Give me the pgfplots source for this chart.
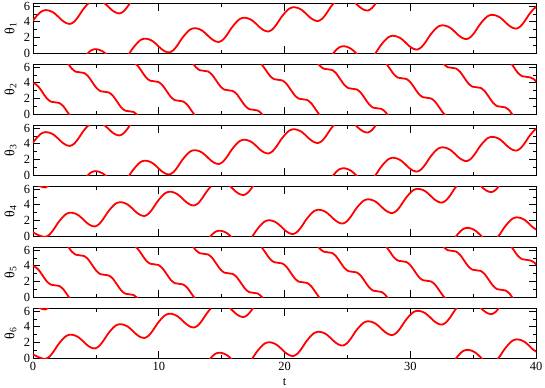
\documentclass[border=0pt]{standalone}
\usepackage{fontspec}
\setmainfont{Liberation Serif}
\usepackage{pgfplots}
\usepackage{pgfplotstable}
\pgfplotsset{compat=1.18}

% theta_1 (= theta_3), wrapped to [0,2pi); rows "nan nan" separate wrap segments
\pgfplotstableread{
t y
0 4.151
0.329 4.801
0.657 5.301
0.986 5.481
1.314 5.401
1.643 5.151
1.972 4.701
2.300 4.201
2.629 3.851
2.957 3.731
3.286 4.031
3.615 4.681
3.943 5.481
4.272 6.131
4.600 6.631
nan nan
4.272 -0.152
4.600 0.348
4.929 0.528
5.258 0.448
5.586 0.198
5.915 -0.252
nan nan
5.586 6.481
5.915 6.031
6.243 5.531
6.572 5.181
6.901 5.061
7.229 5.361
7.558 6.011
7.886 6.811
nan nan
7.558 -0.272
7.886 0.528
8.215 1.178
8.544 1.678
8.872 1.858
9.201 1.778
9.529 1.528
9.858 1.078
10.187 0.578
10.515 0.228
10.844 0.108
11.172 0.408
11.501 1.058
11.830 1.858
12.158 2.508
12.487 3.008
12.815 3.188
13.144 3.108
13.473 2.858
13.801 2.408
14.130 1.908
14.458 1.558
14.787 1.438
15.116 1.738
15.444 2.388
15.773 3.188
16.101 3.838
16.430 4.338
16.759 4.518
17.087 4.438
17.416 4.188
17.744 3.738
18.073 3.238
18.402 2.888
18.730 2.768
19.059 3.068
19.387 3.718
19.716 4.518
20.045 5.168
20.373 5.668
20.702 5.848
21.030 5.768
21.359 5.518
21.688 5.068
22.016 4.568
22.345 4.218
22.673 4.098
23.002 4.398
23.331 5.048
23.659 5.848
23.988 6.498
nan nan
23.659 -0.435
23.988 0.215
24.316 0.715
24.645 0.895
24.974 0.815
25.302 0.565
25.631 0.115
25.959 -0.385
nan nan
25.631 6.398
25.959 5.898
26.288 5.548
26.617 5.428
26.945 5.728
27.274 6.378
nan nan
26.945 -0.555
27.274 0.095
27.602 0.895
27.931 1.545
28.260 2.045
28.588 2.225
28.917 2.145
29.245 1.895
29.574 1.445
29.903 0.945
30.231 0.595
30.560 0.475
30.888 0.775
31.217 1.425
31.546 2.225
31.874 2.875
32.203 3.375
32.531 3.555
32.860 3.475
33.189 3.225
33.517 2.775
33.846 2.275
34.174 1.925
34.503 1.805
34.832 2.105
35.160 2.755
35.489 3.555
35.817 4.205
36.146 4.705
36.475 4.885
36.803 4.805
37.132 4.555
37.460 4.105
37.789 3.605
38.118 3.255
38.446 3.135
38.775 3.435
39.103 4.085
39.432 4.885
39.761 5.535
40.089 6.035
}\thA

% theta_2 (= theta_5)
\pgfplotstableread{
t y
-0.217 3.995
0.112 3.915
0.441 3.495
0.769 2.758
1.098 2.020
1.426 1.600
1.755 1.520
2.084 1.440
2.412 1.020
2.741 0.283
3.069 -0.455
nan nan
2.741 6.566
3.069 5.828
3.398 5.408
3.727 5.328
4.055 5.248
4.384 4.828
4.712 4.091
5.041 3.353
5.370 2.933
5.698 2.853
6.027 2.773
6.355 2.353
6.684 1.616
7.013 0.878
7.341 0.458
7.670 0.378
7.998 0.298
8.327 -0.122
nan nan
7.998 6.581
8.327 6.161
8.656 5.424
8.984 4.686
9.313 4.266
9.641 4.186
9.970 4.106
10.299 3.686
10.627 2.949
10.956 2.211
11.284 1.791
11.613 1.711
11.942 1.631
12.270 1.211
12.599 0.474
12.927 -0.264
nan nan
12.599 6.758
12.927 6.020
13.256 5.600
13.585 5.520
13.913 5.440
14.242 5.020
14.570 4.283
14.899 3.545
15.228 3.125
15.556 3.045
15.885 2.965
16.213 2.545
16.542 1.808
16.871 1.070
17.199 0.650
17.528 0.570
17.856 0.490
18.185 0.070
18.514 -0.668
nan nan
18.185 6.353
18.514 5.616
18.842 4.878
19.171 4.458
19.499 4.378
19.828 4.298
20.157 3.878
20.485 3.141
20.814 2.403
21.142 1.983
21.471 1.903
21.800 1.823
22.128 1.403
22.457 0.666
22.785 -0.072
nan nan
22.457 6.949
22.785 6.211
23.114 5.791
23.443 5.711
23.771 5.631
24.100 5.211
24.428 4.474
24.757 3.736
25.086 3.316
25.414 3.236
25.743 3.156
26.071 2.736
26.400 1.999
26.729 1.261
27.057 0.841
27.386 0.761
27.714 0.681
28.043 0.261
28.372 -0.477
nan nan
28.043 6.544
28.372 5.807
28.700 5.069
29.029 4.649
29.357 4.569
29.686 4.489
30.015 4.069
30.343 3.332
30.672 2.594
31.000 2.174
31.329 2.094
31.658 2.014
31.986 1.594
32.315 0.857
32.643 0.119
32.972 -0.301
nan nan
32.643 6.402
32.972 5.982
33.301 5.902
33.629 5.822
33.958 5.402
34.286 4.665
34.615 3.927
34.944 3.507
35.272 3.427
35.601 3.347
35.929 2.927
36.258 2.190
36.587 1.452
36.915 1.032
37.244 0.952
37.572 0.872
37.901 0.452
38.230 -0.286
nan nan
37.901 6.735
38.230 5.998
38.558 5.260
38.887 4.840
39.215 4.760
39.544 4.680
39.873 4.400
40.201 3.800
}\thB

% theta_4 (= theta_6)
\pgfplotstableread{
t y
0 0.500
0.329 0.220
0.657 0.020
0.986 -0.079
1.314 0.221
1.643 0.871
1.972 1.671
2.300 2.321
2.629 2.821
2.957 3.001
3.286 2.921
3.615 2.671
3.943 2.221
4.272 1.721
4.600 1.371
4.929 1.251
5.258 1.551
5.586 2.201
5.915 3.001
6.243 3.651
6.572 4.151
6.901 4.331
7.229 4.251
7.558 4.001
7.886 3.551
8.215 3.051
8.544 2.701
8.872 2.581
9.201 2.881
9.529 3.531
9.858 4.331
10.187 4.981
10.515 5.481
10.844 5.661
11.172 5.581
11.501 5.331
11.830 4.881
12.158 4.381
12.487 4.031
12.815 3.911
13.144 4.211
13.473 4.861
13.801 5.661
14.130 6.311
nan nan
0.329 6.503
0.657 6.303
0.986 6.204
1.314 6.504
nan nan
13.801 -0.622
14.130 0.028
14.458 0.528
14.787 0.708
15.116 0.628
15.444 0.378
15.773 -0.072
16.101 -0.572
nan nan
15.444 6.661
15.773 6.211
16.101 5.711
16.430 5.361
16.759 5.241
17.087 5.541
17.416 6.191
17.744 6.991
nan nan
17.416 -0.092
17.744 0.708
18.073 1.358
18.402 1.858
18.730 2.038
19.059 1.958
19.387 1.708
19.716 1.258
20.045 0.758
20.373 0.408
20.702 0.288
21.030 0.588
21.359 1.238
21.688 2.038
22.016 2.688
22.345 3.188
22.673 3.368
23.002 3.288
23.331 3.038
23.659 2.588
23.988 2.088
24.316 1.738
24.645 1.618
24.974 1.918
25.302 2.568
25.631 3.368
25.959 4.018
26.288 4.518
26.617 4.698
26.945 4.618
27.274 4.368
27.602 3.918
27.931 3.418
28.260 3.068
28.588 2.948
28.917 3.248
29.245 3.898
29.574 4.698
29.903 5.348
30.231 5.848
30.560 6.028
30.888 5.948
31.217 5.698
31.546 5.248
31.874 4.748
32.203 4.398
32.531 4.278
32.860 4.578
33.189 5.228
33.517 6.028
33.846 6.678
nan nan
33.517 -0.255
33.846 0.395
34.174 0.895
34.503 1.075
34.832 0.995
35.160 0.745
35.489 0.295
35.817 -0.205
nan nan
35.489 6.578
35.817 6.078
36.146 5.728
36.475 5.608
36.803 5.908
37.132 6.558
nan nan
36.803 -0.375
37.132 0.275
37.460 1.075
37.789 1.725
38.118 2.225
38.446 2.405
38.775 2.325
39.103 2.075
39.432 1.625
39.761 1.125
40.089 0.775
}\thC

\pgfplotsset{
  panel/.style={
    scale only axis, width=503bp, height=49.5bp, anchor=south west,
    xmin=0, xmax=40, ymin=0, ymax=6.2832,
    xtick={0,10,20,30,40}, minor xtick={5,15,25,35},
    ytick={0,2,4,6}, minor ytick={1,3,5},
    tick align=inside,
    major tick length=7bp, minor tick length=3.5bp,
    tick style={black, line width=0.6bp},
    axis line style={line width=0.8bp},
    ticklabel style={font=\fontsize{12.5}{13}\selectfont},
    yticklabel style={xshift=0.5bp},
    /pgf/number format/assume math mode=true,
    unbounded coords=jump,
    every axis y label/.style={at={(axis description cs:-0.0447,0.5)}, rotate=90, anchor=center, font=\fontsize{14}{15}\selectfont},
    every axis x label/.style={at={(axis description cs:0.5,-0.48)}, anchor=center, font=\fontsize{12.5}{13}\selectfont},
  },
  curve/.style={red, line width=1.8bp, smooth, no markers},
}

\begin{document}
\begin{tikzpicture}
\path[use as bounding box] (0,0) rectangle (545bp,388bp);
\begin{axis}[panel, at={(33bp,334.7bp)}, xticklabels={}, ylabel={θ\textsubscript{1}}]
\addplot[curve] table {\thA};
\end{axis}
\begin{axis}[panel, at={(33bp,273.7bp)}, xticklabels={}, ylabel={θ\textsubscript{2}}]
\addplot[curve] table {\thB};
\end{axis}
\begin{axis}[panel, at={(33bp,212.7bp)}, xticklabels={}, ylabel={θ\textsubscript{3}}]
\addplot[curve] table {\thA};
\end{axis}
\begin{axis}[panel, at={(33bp,151.7bp)}, xticklabels={}, ylabel={θ\textsubscript{4}}]
\addplot[curve] table {\thC};
\end{axis}
\begin{axis}[panel, at={(33bp,90.7bp)}, xticklabels={}, ylabel={θ\textsubscript{5}}]
\addplot[curve] table {\thB};
\end{axis}
\begin{axis}[panel, at={(33bp,29.7bp)}, ylabel={θ\textsubscript{6}}, xlabel={t}]
\addplot[curve] table {\thC};
\end{axis}
\end{tikzpicture}
\end{document}
